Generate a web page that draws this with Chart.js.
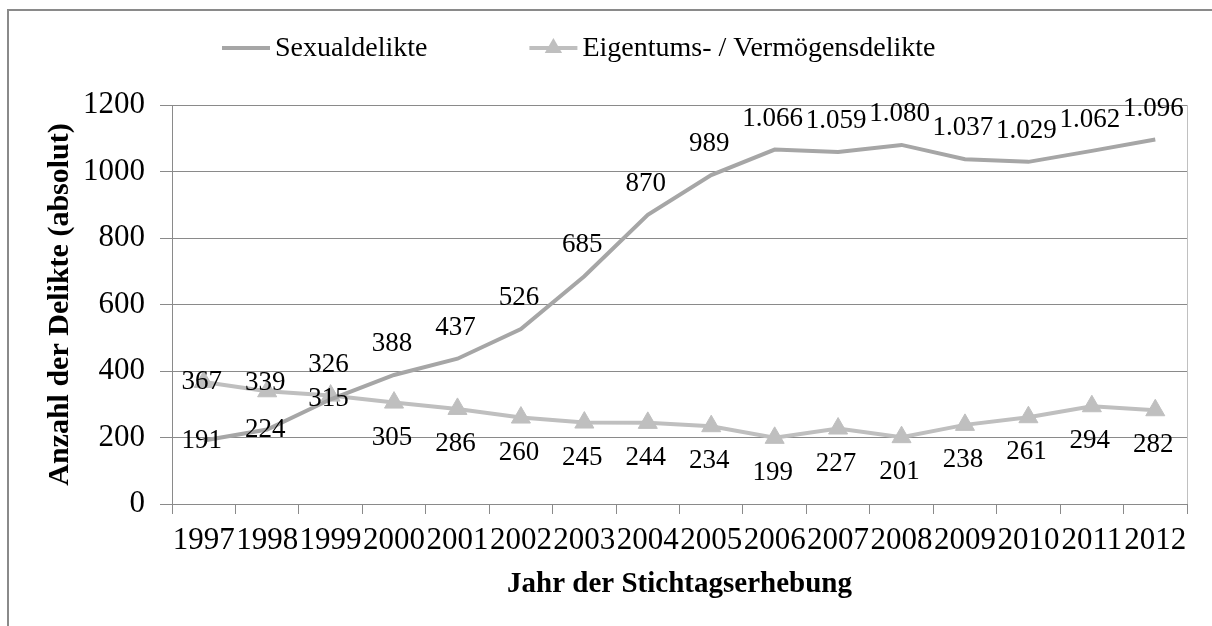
<!DOCTYPE html>
<html>
<head>
<meta charset="utf-8">
<script src="https://cdn.jsdelivr.net/npm/chart.js@4.4.1/dist/chart.umd.min.js"></script>
<style>
  html, body { margin: 0; padding: 0; background: #fff; overflow: hidden; }
  #wrap { position: relative; width: 1212px; height: 626px; }
  #frame { position: absolute; left: 7px; top: 9px; width: 1400px; height: 800px; border: 2px solid #8a8a8a; box-sizing: border-box; }
  canvas { position: absolute; left: 0; top: 0; }
</style>
</head>
<body>
<div id="wrap">
  <div id="frame"></div>
  <canvas id="c" width="1212" height="626"></canvas>
</div>
<script>
const years = ['1997','1998','1999','2000','2001','2002','2003','2004','2005','2006','2007','2008','2009','2010','2011','2012'];
const sexualdelikte = [191, 224, 315, 388, 437, 526, 685, 870, 989, 1066, 1059, 1080, 1037, 1029, 1062, 1096];
const eigentumsdelikte = [367, 339, 326, 305, 286, 260, 245, 244, 234, 199, 227, 201, 238, 261, 294, 282];
const yTicks = [0, 200, 400, 600, 800, 1000, 1200];
const seriesNames = ['Sexualdelikte', 'Eigentums- / Vermögensdelikte'];
const xTitle = 'Jahr der Stichtagserhebung';
const yTitle = 'Anzahl der Delikte (absolut)';

const FONT = '"Liberation Serif", "Times New Roman", serif';
const SEX_COLOR = '#a6a6a6';
const EIG_COLOR = '#bfbfbf';

function fmtDE(v) {
  return String(v).replace(/\B(?=(\d{3})+(?!\d))/g, '.');
}

// label placement per series: function of point index
const labelPlacement = [
  i => (i <= 2 ? 'center' : 'above'),
  i => (i === 0 ? 'center' : i === 1 ? 'centerUp' : i === 2 ? 'above' : 'below')
];

const dataLabelPlugin = {
  id: 'dataLabels',
  afterDatasetsDraw(chart) {
    const ctx = chart.ctx;
    ctx.save();
    ctx.font = '27px ' + FONT;
    ctx.fillStyle = '#000';
    ctx.textAlign = 'center';
    ctx.textBaseline = 'middle';
    chart.data.datasets.forEach((ds, di) => {
      const meta = chart.getDatasetMeta(di);
      meta.data.forEach((pt, i) => {
        const place = labelPlacement[di](i);
        let dy = 0;
        if (place === 'above') dy = -31;
        else if (place === 'below') dy = 35;
        else if (place === 'centerUp') dy = -8;
        ctx.fillText(fmtDE(ds.data[i]), pt.x - 2, pt.y + dy);
      });
    });
    ctx.restore();
  }
};

const frameLegendPlugin = {
  id: 'frameLegend',
  afterDraw(chart) {
    const ctx = chart.ctx;
    const area = chart.chartArea;
    ctx.save();
    // right border of plot area
    ctx.strokeStyle = '#c0c0c0';
    ctx.lineWidth = 1;
    ctx.beginPath();
    ctx.moveTo(Math.round(area.right) + 0.5, area.top);
    ctx.lineTo(Math.round(area.right) + 0.5, area.bottom);
    ctx.stroke();

    // legend
    ctx.font = '28px ' + FONT;
    ctx.textBaseline = 'middle';
    ctx.textAlign = 'left';
    const y = 48;
    let x = 222;
    chart.data.datasets.forEach((ds, di) => {
      const sample = 48;
      ctx.strokeStyle = ds.borderColor;
      ctx.lineWidth = ds.borderWidth;
      ctx.beginPath();
      ctx.moveTo(x, y);
      ctx.lineTo(x + sample, y);
      ctx.stroke();
      if (ds.pointStyle === 'triangle') {
        const r = 10;
        ctx.fillStyle = ds.pointBackgroundColor;
        ctx.beginPath();
        ctx.moveTo(x + sample / 2, y - r);
        ctx.lineTo(x + sample / 2 + r * 0.866, y + r * 0.5);
        ctx.lineTo(x + sample / 2 - r * 0.866, y + r * 0.5);
        ctx.closePath();
        ctx.fill();
      }
      ctx.fillStyle = '#000';
      const tx = x + sample + 5;
      ctx.fillText(ds.label, tx, y + 1);
      x = tx + ctx.measureText(ds.label).width + 102;
    });
    ctx.restore();
  }
};

new Chart(document.getElementById('c'), {
  type: 'line',
  data: {
    labels: years,
    datasets: [
      {
        label: seriesNames[0],
        data: sexualdelikte,
        borderColor: SEX_COLOR,
        backgroundColor: SEX_COLOR,
        borderWidth: 4,
        pointRadius: 0,
        pointHoverRadius: 0,
        tension: 0,
        fill: false
      },
      {
        label: seriesNames[1],
        data: eigentumsdelikte,
        borderColor: EIG_COLOR,
        backgroundColor: EIG_COLOR,
        pointBackgroundColor: EIG_COLOR,
        pointBorderColor: EIG_COLOR,
        borderWidth: 4,
        pointStyle: 'triangle',
        pointRadius: 11,
        pointBorderWidth: 1,
        pointHoverRadius: 11,
        tension: 0,
        fill: false
      }
    ]
  },
  options: {
    responsive: false,
    animation: false,
    layout: { padding: { top: 105, right: 25, left: 0, bottom: 0 } },
    plugins: {
      legend: { display: false },
      tooltip: { enabled: false },
      title: { display: false }
    },
    scales: {
      x: {
        type: 'category',
        offset: true,
        grid: { offset: true, drawOnChartArea: false, tickLength: 10, tickColor: '#8a8a8a', color: '#8a8a8a' },
        border: { color: '#8a8a8a', width: 1 },
        ticks: {
          autoSkip: false, maxRotation: 0, minRotation: 0,
          color: '#000', font: { family: FONT, size: 31 }, padding: 8
        },
        title: {
          display: true, text: xTitle, color: '#000',
          font: { family: FONT, size: 29, weight: 'bold' },
          padding: { top: 0, bottom: 24 }
        },
        afterFit: s => { s.height = 122; }
      },
      y: {
        min: 0, max: 1200,
        afterBuildTicks: s => { s.ticks = yTicks.map(v => ({ value: v })); },
        grid: { color: '#8a8a8a', tickLength: 12, tickColor: '#8a8a8a', lineWidth: 1 },
        border: { color: '#8a8a8a', width: 1 },
        ticks: {
          color: '#000', font: { family: FONT, size: 31 }, padding: 15,
          callback: v => String(v)
        },
        title: {
          display: true, text: yTitle, color: '#000',
          font: { family: FONT, size: 30, weight: 'bold' },
          padding: { top: 42, bottom: 0 }
        },
        afterFit: s => { s.width = 172; }
      }
    }
  },
  plugins: [dataLabelPlugin, frameLegendPlugin]
});
</script>
</body>
</html>
